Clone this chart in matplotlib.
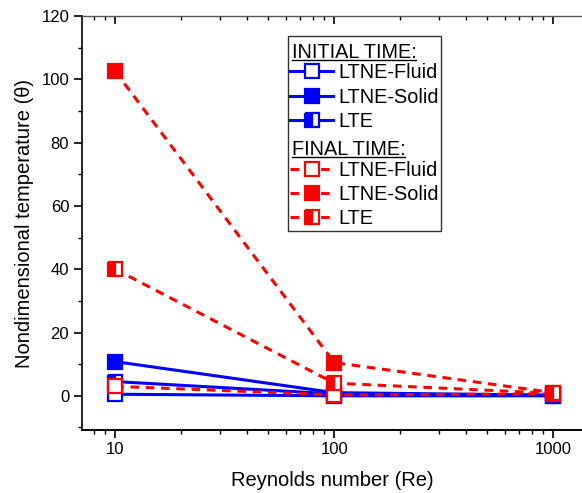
import matplotlib
matplotlib.use("Agg")
import matplotlib.pyplot as plt
from matplotlib.lines import Line2D
import numpy as np

plt.rcParams['font.family'] = ['Liberation Sans', 'DejaVu Sans']

re = [10, 100, 1000]
# initial time
ini_fluid = [0.5, 0.0, 0.0]
ini_solid = [10.8, 1.0, 0.2]
ini_lte = [4.5, 0.6, 0.1]
# final time
fin_fluid = [3.0, 0.3, 0.6]
fin_solid = [102.5, 10.5, 1.0]
fin_lte = [40.0, 4.0, 0.8]

blue = '#0000ff'
red = '#ff0000'

W, H = 582, 493
fig = plt.figure(figsize=(W / 100, H / 100), dpi=100)
ax = fig.add_axes([81.7 / W, 1 - 430 / H, 1 - 81.7 / W, (430 - 16) / H])

ms = 10.5
mew = 1.6
lw = 2.2
dash = (0, (2.8, 2.2))
common = dict(markersize=ms, markeredgewidth=mew, marker='s')

h1, = ax.plot(re, ini_fluid, color=blue, lw=lw, mfc='white', mec=blue, **common)
h2, = ax.plot(re, ini_solid, color=blue, lw=lw, mfc=blue, mec=blue, **common)
h3, = ax.plot(re, ini_lte, color=blue, lw=lw, mfc=blue, mec=blue,
              fillstyle='left', markerfacecoloralt='white', **common)
h4, = ax.plot(re, fin_fluid, color=red, lw=lw, ls=dash, mfc='white', mec=red, **common)
h5, = ax.plot(re, fin_solid, color=red, lw=lw, ls=dash, mfc=red, mec=red, **common)
h6, = ax.plot(re, fin_lte, color=red, lw=lw, ls=dash, mfc=red, mec=red,
              fillstyle='left', markerfacecoloralt='white', **common)

xlim = (7.03, 1352)
ax.set_xscale('log')
ax.set_xlim(*xlim)
ax.set_ylim(-10.8, 120)
ax.set_xticks([10, 100, 1000])
ax.set_xticklabels(['10', '100', '1000'])
ax.set_yticks(np.arange(0, 121, 20))
ax.set_yticks(np.arange(-10, 121, 10), minor=True)

ax.spines['right'].set_visible(False)
ax.spines['top'].set_visible(False)
ax.spines['left'].set_linewidth(1.2)
ax.spines['bottom'].set_linewidth(1.4)
ax.tick_params(which='major', length=5.5, width=1.2, labelsize=12, direction='out')
ax.tick_params(which='minor', length=3, width=1.0, direction='out')

# top axis with inward ticks
ax2 = ax.twiny()
ax2.set_xscale('log')
ax2.set_xlim(*xlim)
ax2.set_xticks([10, 100, 1000])
ax2.set_xticklabels([])
for s in ['left', 'right', 'bottom']:
    ax2.spines[s].set_visible(False)
ax2.spines['top'].set_linewidth(1.0)
ax2.spines['top'].set_color('#555555')
ax2.tick_params(axis='x', which='major', direction='in', length=5.5, width=1.2, top=True)
ax2.tick_params(axis='x', which='minor', direction='in', length=3, width=1.0, top=True)

ax.set_xlabel('Reynolds number (Re)', fontsize=14.5, labelpad=10)
ax.set_ylabel('Nondimensional temperature (\u03b8)', fontsize=14.5, labelpad=5)

blank = Line2D([], [], visible=False)
handles = [blank, h1, h2, h3, blank, h4, h5, h6]
headers = ['INITIAL TIME:', 'FINAL TIME:']
labels = [' ', 'LTNE-Fluid', 'LTNE-Solid', 'LTE',
          ' ', 'LTNE-Fluid', 'LTNE-Solid', 'LTE']
fs = 14.3
leg = ax2.legend(handles, labels, loc='upper left',
                 bbox_to_anchor=(287.7 / W, 1 - 36 / H), bbox_transform=fig.transFigure,
                 fontsize=fs, frameon=True, fancybox=False, edgecolor='black',
                 handlelength=2.15, handletextpad=0.25, labelspacing=0.27,
                 borderpad=0.14, borderaxespad=0, markerscale=1.0)
leg.get_frame().set_linewidth(1.0)

fig.canvas.draw()
renderer = fig.canvas.get_renderer()
inv = fig.transFigure.inverted()
frame_bb = leg.get_frame().get_window_extent(renderer)
texts = leg.get_texts()
for i, head in zip((0, 4), headers):
    bb = texts[i].get_window_extent(renderer)
    fx, fy = inv.transform((frame_bb.x0 + 4, bb.y0))
    t = fig.text(fx, fy, head, fontsize=fs, ha='left', va='baseline', zorder=10)
    fig.canvas.draw()
    tb = t.get_window_extent(renderer)
    # baseline sits about descent above bbox bottom
    base = tb.y0 + 0.21 * fs * fig.dpi / 72.0
    y = base - 2
    (x0, yy), (x1, _) = inv.transform([(tb.x0, y), (tb.x1, y)])
    fig.add_artist(Line2D([x0, x1], [yy, yy], transform=fig.transFigure,
                          color='black', lw=1.0, zorder=10))

fig.savefig('out.png', dpi=100)
